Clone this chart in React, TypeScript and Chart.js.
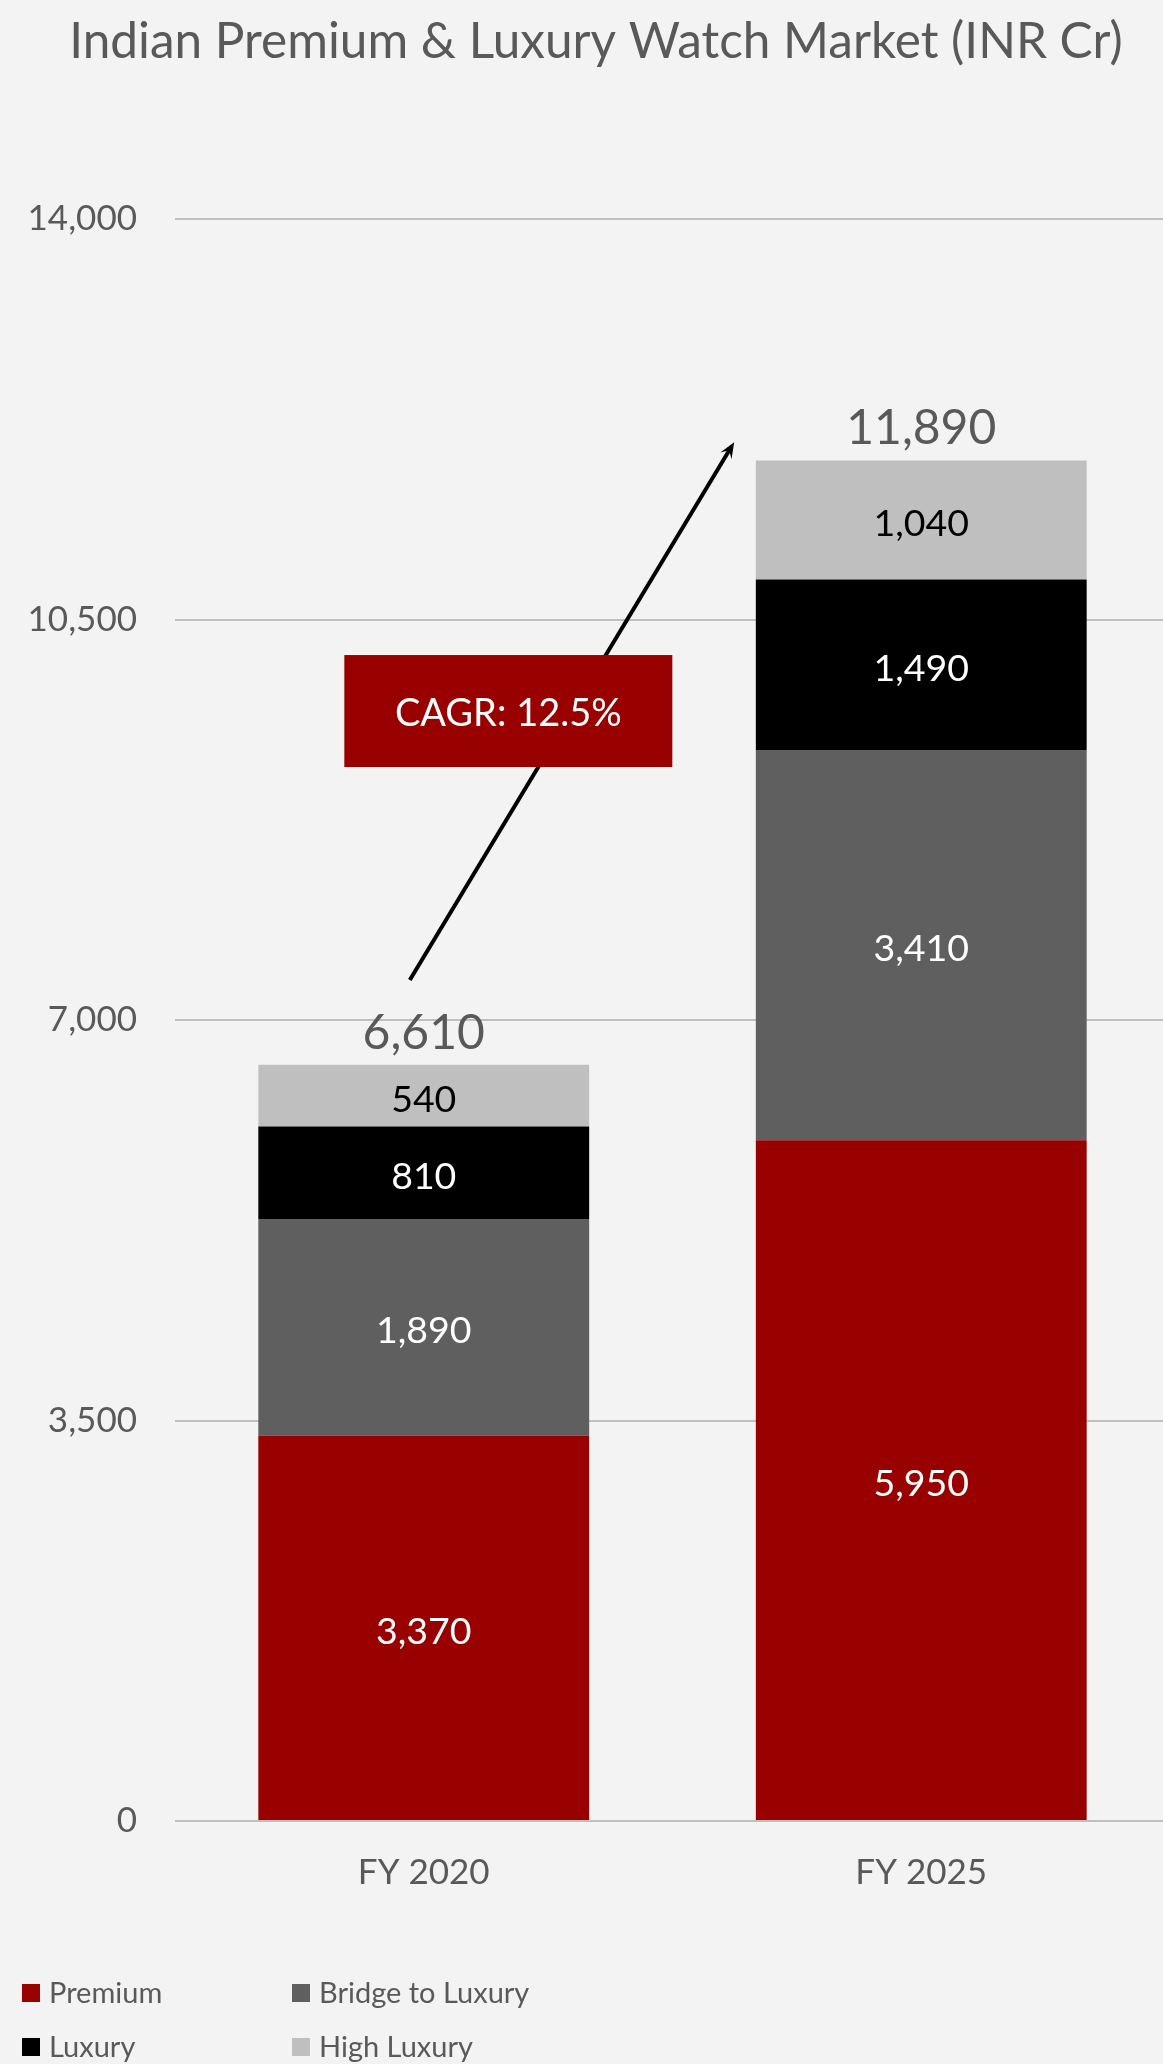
import React, { useEffect, useRef } from "react";
import { Chart, registerables } from "chart.js";

Chart.register(...registerables);

const titleText = "Indian Premium & Luxury Watch Market (INR Cr)";
const categories = ["FY 2020", "FY 2025"];
const seriesNames = ["Premium", "Bridge to Luxury", "Luxury", "High Luxury"];
const premium = [3370, 5950];
const bridge = [1890, 3410];
const luxury = [810, 1490];
const highLuxury = [540, 1040];
const totals = [6610, 11890];
const yTickValues = [0, 3500, 7000, 10500, 14000];
const cagrText = "CAGR: 12.5%";
// annotation anchors in data units (category index, value)
const arrowStart = [-0.028, 7350];
const arrowEnd = [0.624, 12050];
const cagrCenter = [0.17, 9700];

const seriesColors = ["#990000", "#5f5f5f", "#000000", "#bfbfbf"];
const labelColors = ["#ffffff", "#ffffff", "#ffffff", "#000000"];
const FONT = "Lato, 'Open Sans', sans-serif";
const TEXT = "#595959";
const BG = "#f3f3f3";
const CANVAS_W = 1170;
const CANVAS_H = 2064;

const fmt = (v: number) => v.toLocaleString("en-US");

const customPlugin = {
  id: "custom",
  beforeDraw(chart: any) {
    const ctx = chart.ctx;
    ctx.save();
    ctx.fillStyle = BG;
    ctx.fillRect(0, 0, chart.width, chart.height);
    ctx.restore();
  },
  afterDatasetsDraw(chart: any) {
    const ctx = chart.ctx;
    const xs = chart.scales.x;
    const ys = chart.scales.y;
    ctx.save();
    // segment labels
    chart.data.datasets.forEach((ds: any, di: number) => {
      const meta = chart.getDatasetMeta(di);
      meta.data.forEach((el: any, i: number) => {
        const yc = (el.y + el.base) / 2;
        ctx.fillStyle = labelColors[di];
        ctx.font = `37.5px ${FONT}`;
        ctx.textAlign = "center";
        ctx.textBaseline = "middle";
        ctx.fillText(fmt(ds.data[i]), el.x, yc + 4);
      });
    });
    // totals
    totals.forEach((t, i) => {
      const x = xs.getPixelForValue(i);
      const y = ys.getPixelForValue(t);
      ctx.fillStyle = TEXT;
      ctx.font = `48px ${FONT}`;
      ctx.textAlign = "center";
      ctx.textBaseline = "alphabetic";
      ctx.fillText(fmt(t), x, y - 16);
    });
    // arrow
    const x1 = xs.getPixelForValue(arrowStart[0]);
    const y1 = ys.getPixelForValue(arrowStart[1]);
    const x2 = xs.getPixelForValue(arrowEnd[0]);
    const y2 = ys.getPixelForValue(arrowEnd[1]);
    const ang = Math.atan2(y2 - y1, x2 - x1);
    const L = 16, W = 6.5;
    ctx.strokeStyle = "#000";
    ctx.lineWidth = 4;
    ctx.beginPath();
    ctx.moveTo(x1, y1);
    ctx.lineTo(x2 - Math.cos(ang) * 8, y2 - Math.sin(ang) * 8);
    ctx.stroke();
    ctx.fillStyle = "#000";
    ctx.beginPath();
    ctx.moveTo(x2, y2);
    ctx.lineTo(x2 - L * Math.cos(ang) + W * Math.sin(ang), y2 - L * Math.sin(ang) - W * Math.cos(ang));
    ctx.lineTo(x2 - 0.6 * L * Math.cos(ang), y2 - 0.6 * L * Math.sin(ang));
    ctx.lineTo(x2 - L * Math.cos(ang) - W * Math.sin(ang), y2 - L * Math.sin(ang) + W * Math.cos(ang));
    ctx.closePath();
    ctx.fill();
    // CAGR box
    const cx = xs.getPixelForValue(cagrCenter[0]);
    const cy = ys.getPixelForValue(cagrCenter[1]);
    const bw = 328, bh = 112;
    ctx.fillStyle = "#990000";
    ctx.fillRect(cx - bw / 2, cy - bh / 2, bw, bh);
    ctx.fillStyle = "#ffffff";
    ctx.font = `38px ${FONT}`;
    ctx.textAlign = "center";
    ctx.textBaseline = "middle";
    ctx.fillText(cagrText, cx, cy + 3);
    ctx.restore();
  },
  afterDraw(chart: any) {
    const ctx = chart.ctx;
    ctx.save();
    // title
    ctx.fillStyle = TEXT;
    ctx.font = `49.5px ${FONT}`;
    ctx.textAlign = "center";
    ctx.textBaseline = "middle";
    ctx.fillText(titleText, 596, 42);
    // legend
    const cols = [22, 292];
    const rows = [1984, 2038];
    seriesNames.forEach((name, i) => {
      const bx = cols[i % 2];
      const by = rows[Math.floor(i / 2)];
      ctx.fillStyle = seriesColors[i];
      ctx.fillRect(bx, by, 18, 18);
      ctx.fillStyle = TEXT;
      ctx.font = `29px ${FONT}`;
      ctx.textAlign = "left";
      ctx.textBaseline = "middle";
      ctx.fillText(name, bx + 27, by + 10);
    });
    ctx.restore();
  },
};

export default function App() {
  const ref = useRef<HTMLCanvasElement | null>(null);
  useEffect(() => {
    if (!ref.current) return;
    const dataArrays = [premium, bridge, luxury, highLuxury];
    const chart = new Chart(ref.current, {
      type: "bar",
      data: {
        labels: categories,
        datasets: seriesNames.map((n, i) => ({
          label: n,
          data: dataArrays[i],
          backgroundColor: seriesColors[i],
          borderWidth: 0,
          barPercentage: 0.665,
          categoryPercentage: 1,
        })),
      },
      options: {
        responsive: false,
        maintainAspectRatio: false,
        animation: false,
        devicePixelRatio: 1,
        layout: { padding: { top: 219, left: 0, right: 0, bottom: 0 } },
        plugins: {
          legend: { display: false },
          title: { display: false },
          tooltip: { enabled: false },
        },
        scales: {
          x: {
            stacked: true,
            grid: { display: false, drawTicks: false },
            border: { display: false },
            ticks: {
              color: TEXT,
              font: { family: FONT, size: 35 },
              padding: 31,
            },
            afterFit: (s: any) => {
              s.height = 243;
            },
          },
          y: {
            stacked: true,
            min: 0,
            max: 14000,
            afterBuildTicks: (s: any) => {
              s.ticks = yTickValues.map((v) => ({ value: v }));
            },
            grid: { color: "#bfbfbf", lineWidth: 2, drawTicks: false },
            border: { display: false },
            ticks: {
              color: TEXT,
              font: { family: FONT, size: 35 },
              padding: 38,
              callback: (v: any) => fmt(Number(v)),
            },
            afterFit: (s: any) => {
              s.width = 175;
            },
          },
        },
      },
      plugins: [customPlugin],
    });
    return () => chart.destroy();
  }, []);
  return (
    <div style={{ position: "absolute", left: 0, top: 0, width: 1163, height: 2064, overflow: "hidden", background: BG }}>
      <canvas ref={ref} width={CANVAS_W} height={CANVAS_H} style={{ display: "block", width: CANVAS_W, height: CANVAS_H }} />
    </div>
  );
}
